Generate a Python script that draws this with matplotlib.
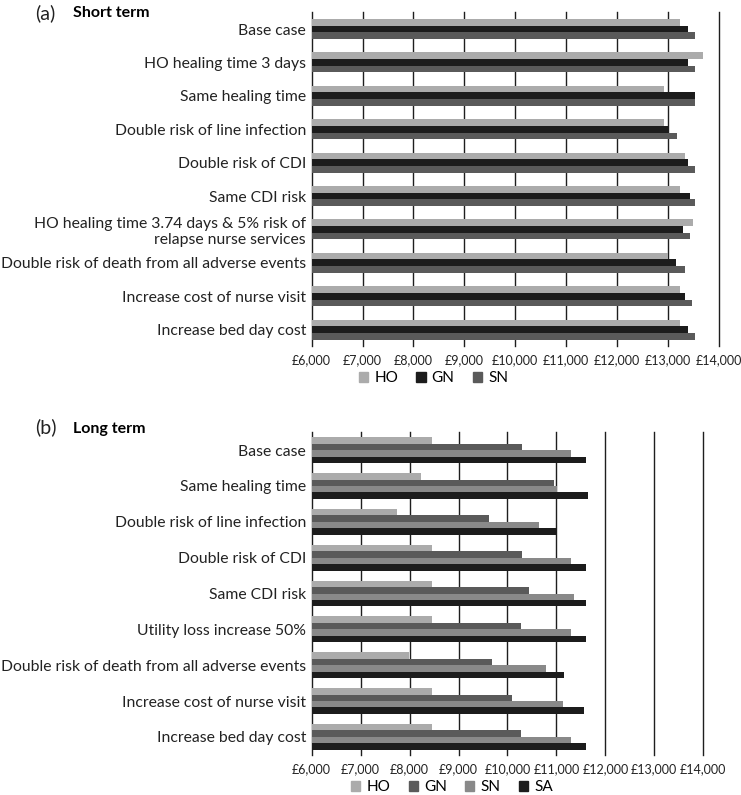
import matplotlib
matplotlib.use('Agg')
import matplotlib.pyplot as plt
import numpy as np
from matplotlib.ticker import FuncFormatter

plt.rcParams['font.family'] = ['Lato', 'DejaVu Sans']

# (a) short term
short_cases = ['Base case', 'HO healing time 3 days', 'Same healing time',
               'Double risk of line infection', 'Double risk of CDI', 'Same CDI risk',
               'HO healing time 3.74 days & 5% risk of\nrelapse nurse services',
               'Double risk of death from all adverse events',
               'Increase cost of nurse visit', 'Increase bed day cost']
short_ho = [13240, 13685, 12920, 12920, 13340, 13240, 13495, 13005, 13240, 13240]
short_gn = [13390, 13390, 13540, 13010, 13390, 13440, 13305, 13155, 13345, 13390]
short_sn = [13530, 13530, 13540, 13190, 13530, 13530, 13440, 13340, 13475, 13530]

# (b) long term
long_cases = ['Base case', 'Same healing time', 'Double risk of line infection',
              'Double risk of CDI', 'Same CDI risk', 'Utility loss increase 50%',
              'Double risk of death from all adverse events',
              'Increase cost of nurse visit', 'Increase bed day cost']
long_ho = [8450, 8225, 7750, 8450, 8450, 8450, 7995, 8450, 8450]
long_gn = [10300, 10960, 9630, 10300, 10440, 10280, 9690, 10085, 10280]
long_sn = [11300, 11010, 10645, 11300, 11350, 11300, 10790, 11135, 11290]
long_sa = [11605, 11635, 11010, 11605, 11605, 11605, 11145, 11570, 11605]

xticks = np.arange(6000, 14001, 1000)
money = FuncFormatter(lambda v, p: '£{:,.0f}'.format(v))

C_LIGHT = '#ababab'
C_BLACK = '#1c1c1c'
C_DARK = '#5a5a5a'
C_MID = '#898989'


def draw_panel(ax, cases, series, colors, height):
    y = np.arange(len(cases))
    n = len(series)
    for i, (vals, col) in enumerate(zip(series, colors)):
        off = (i - (n - 1) / 2) * height
        ax.barh(y + off, np.array(vals) - 6000, left=6000, height=height,
                color=col, zorder=2)
    ax.set_xlim(6000, 14000)
    ax.set_ylim(len(cases) - 0.5, -0.5)
    ax.set_yticks(y)
    ax.set_yticklabels(cases, fontsize=11.3, color='#222222')
    ax.set_xticks(xticks)
    ax.xaxis.set_major_formatter(money)
    ax.tick_params(axis='x', labelsize=9, length=0, pad=6, colors='#222222')
    ax.tick_params(axis='y', length=0, pad=4)
    ax.grid(axis='x', color='#1e1e1e', linewidth=1.0, zorder=1)
    ax.set_axisbelow(True)
    for g in ax.xaxis.get_gridlines():
        g.set_clip_on(False)
    for s in ax.spines.values():
        s.set_visible(False)


fig = plt.figure(figsize=(7.41, 7.95), dpi=100)

ax1 = fig.add_axes([0.4206, 0.5644, 0.5493, 0.4201])
draw_panel(ax1, short_cases, [short_ho, short_gn, short_sn],
           [C_LIGHT, C_BLACK, C_DARK], 0.2)
fig.legend(handles=[plt.Rectangle((0, 0), 1, 1, color=c) for c in [C_LIGHT, C_BLACK, C_DARK]],
           labels=['HO', 'GN', 'SN'], ncol=3, frameon=False, fontsize=11,
           handlelength=0.6, handleheight=0.6, handletextpad=0.4, columnspacing=1.2,
           loc='center', bbox_to_anchor=(0.585, 0.524))
fig.text(0.047, 0.984, '(a)', fontsize=14, va='center', color='#222222')
fig.text(0.098, 0.984, 'Short term', fontsize=11.5, fontweight='bold', va='center')

ax2 = fig.add_axes([0.4206, 0.0506, 0.5285, 0.4057])
draw_panel(ax2, long_cases, [long_ho, long_gn, long_sn, long_sa],
           [C_LIGHT, C_DARK, C_MID, C_BLACK], 0.18)
fig.legend(handles=[plt.Rectangle((0, 0), 1, 1, color=c) for c in [C_LIGHT, C_DARK, C_MID, C_BLACK]],
           labels=['HO', 'GN', 'SN', 'SA'], ncol=4, frameon=False, fontsize=11,
           handlelength=0.6, handleheight=0.6, handletextpad=0.4, columnspacing=1.2,
           loc='center', bbox_to_anchor=(0.61, 0.010))
fig.text(0.047, 0.463, '(b)', fontsize=14, va='center', color='#222222')
fig.text(0.098, 0.460, 'Long term', fontsize=11.5, fontweight='bold', va='center')

fig.savefig('out.png', dpi=100)
